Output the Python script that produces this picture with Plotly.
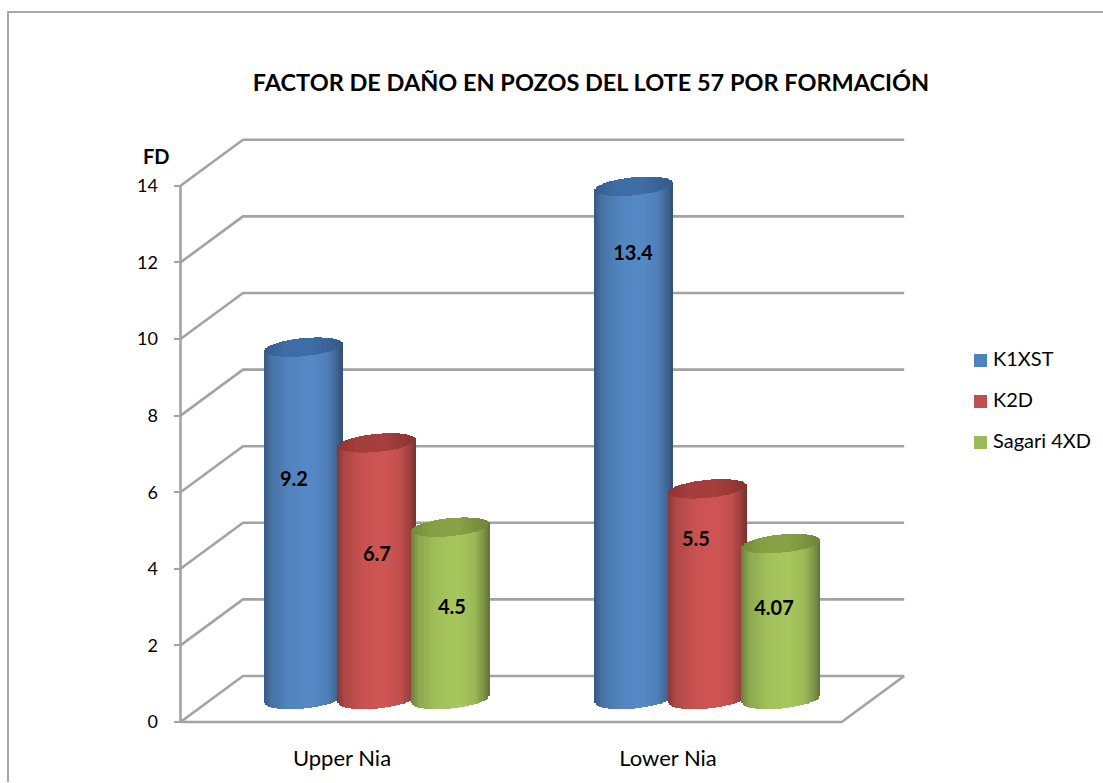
import numpy as np
import plotly.graph_objects as go

# Chart data
categories = ["Upper Nia", "Lower Nia"]
series_names = ["K1XST", "K2D", "Sagari 4XD"]
k1xst = [9.2, 13.4]
k2d = [6.7, 5.5]
sagari_4xd = [4.5, 4.07]
y_ticks = [0, 2, 4, 6, 8, 10, 12, 14]

W, H = 1103, 783
X0_PX, UNIT_X = 180.5, 330.6      # screen position of category 0, pixels per category
Y0_PX, UNIT_Y = 722.0, 38.3       # screen position of value 0, pixels per value unit
DEPTH_X, DEPTH_Y = 62.5, 46.0     # oblique depth of the 3D box, pixels


def dx(px):
    return (px - X0_PX) / UNIT_X


def dy(py):
    return (Y0_PX - py) / UNIT_Y


def project(cat, value, depth=0.0):
    """Oblique projection of a point in the 3D box to axis coordinates."""
    return cat + depth * DEPTH_X / UNIT_X, value + depth * DEPTH_Y / UNIT_Y


fig = go.Figure()
shapes = []


def wall_line(points, width=2.6):
    path = []
    for i, (c, v, d) in enumerate(points):
        x, y = project(c, v, d)
        path.append(f"{'M' if i == 0 else 'L'} {x:.5f} {y:.5f}")
    shapes.append(dict(type="path", path=" ".join(path), xref="x", yref="y", layer="below",
                       line=dict(color="#a3a3a3", width=width)))


# Back wall gridlines with their returns to the value axis
for v in y_ticks:
    wall_line([(0, v, 0), (0, v, 1), (2, v, 1)])
# Value axis, floor front edge and floor right edge
wall_line([(0, 0, 0), (0, y_ticks[-1], 0)])
wall_line([(0, 0, 0), (2, 0, 0), (2, 0, 1)])

# Cylinders are built from narrow shaded columns
SEMI_W = 38.5 / UNIT_X
CAP_B = 9.0 / UNIT_Y
CAP_TILT = 3.6 / UNIT_Y
GROUP_STEP = 73.5 / UNIT_X
BASE_SHIFT = (Y0_PX - 699.5) / UNIT_Y
u = np.linspace(-1, 1, 53)
strip_w = 1.1 * 2 * SEMI_W / (len(u) - 1)

palettes = [
    {"legend": "#4f81bd", "light": (86, 138, 199), "cap": (62, 108, 164)},
    {"legend": "#c0504d", "light": (208, 86, 84), "cap": (164, 62, 60)},
    {"legend": "#9bbb59", "light": (168, 200, 94), "cap": (134, 160, 68)},
]


def shaded(rgb, factors):
    return [f"rgb({int(rgb[0]*f)},{int(rgb[1]*f)},{int(rgb[2]*f)})" for f in factors]


body_shade = np.interp(u, [-1, -0.82, -0.35, 0.2, 0.65, 0.9, 1], [0.66, 0.84, 0.96, 1.0, 0.92, 0.72, 0.6])
cap_shade = np.interp(u, [-1, -0.5, 0.2, 1], [0.86, 1.0, 1.02, 0.84])
half_chord = np.sqrt(np.clip(1 - u ** 2, 0, 1))

for s, (name, values, pal) in enumerate(zip(series_names, [k1xst, k2d, sagari_4xd], palettes)):
    for c, value in enumerate(values):
        centre = c + 0.5 + 0.5 * DEPTH_X / UNIT_X + (s - 1) * GROUP_STEP
        xs = centre + u * SEMI_W
        bottom = BASE_SHIFT + CAP_TILT * u - CAP_B * half_chord
        top_c = value + BASE_SHIFT
        cap_low = top_c + CAP_TILT * u - CAP_B * half_chord
        cap_high = top_c + CAP_TILT * u + CAP_B * half_chord
        fig.add_bar(x=xs, y=cap_low + 0.03 - bottom, base=bottom, width=strip_w,
                    marker=dict(color=shaded(pal["light"], body_shade), line_width=0),
                    showlegend=False, hoverinfo="skip")
        fig.add_bar(x=xs, y=cap_high - cap_low, base=cap_low, width=strip_w,
                    marker=dict(color=shaded(pal["cap"], cap_shade), line_width=0),
                    showlegend=False, hoverinfo="skip")

# Value labels, placed by hand over each cylinder
label_px = [(294, 481), (633, 255), (377, 556), (696, 541), (452, 609), (774, 610)]
label_vals = k1xst + k2d + sagari_4xd
fig.add_scatter(x=[dx(p[0]) for p in label_px], y=[dy(p[1]) for p in label_px],
                mode="text", text=[f"<b>{v}</b>" for v in label_vals],
                textfont=dict(family="Lato", size=20, color="#000000"),
                textposition="middle center", showlegend=False, hoverinfo="skip")

# Key on the right
key_y = [360.5, 401.5, 442.5]
fig.add_scatter(x=[dx(980.5)] * 3, y=[dy(p) for p in key_y], mode="markers",
                marker=dict(symbol="square", size=13, color=[p["legend"] for p in palettes]),
                showlegend=False, hoverinfo="skip")
fig.add_scatter(x=[dx(993)] * 3, y=[dy(p) for p in key_y], mode="text",
                text=series_names, textposition="middle right",
                textfont=dict(family="Lato", size=20, color="#000000"),
                showlegend=False, hoverinfo="skip")

# Chart frame: top and left edges only
shapes.append(dict(type="path", xref="paper", yref="paper", layer="below",
                   path=f"M {1} {1 - 12 / H} L {8 / W} {1 - 12 / H} L {8 / W} {1 - 782 / H}",
                   line=dict(color="#8c8c8c", width=1.5)))

fig.update_layout(
    width=W, height=H, margin=dict(l=0, r=0, t=0, b=0),
    paper_bgcolor="#ffffff", plot_bgcolor="#ffffff", barmode="overlay", bargap=0,
    showlegend=False, shapes=shapes,
    title=dict(text="<b>FACTOR DE DAÑO EN POZOS DEL LOTE 57 POR FORMACIÓN</b>",
               x=591 / W, xanchor="center", y=1 - 83 / H, yanchor="middle",
               font=dict(family="Lato", size=23.5, color="#000000")),
    xaxis=dict(range=[dx(0), dx(W)], anchor="free", position=1 - Y0_PX / H,
               showgrid=False, zeroline=False, showline=False, ticks="",
               tickmode="array", tickvals=[dx(342), dx(668)], ticktext=categories,
               tickfont=dict(family="Lato", size=22, color="#000000"), ticklabelstandoff=21),
    yaxis=dict(range=[dy(H), dy(0)], anchor="free", position=X0_PX / W,
               showgrid=False, zeroline=False, showline=False,
               tickmode="array", tickvals=y_ticks, ticks="outside", ticklen=7,
               tickcolor="#a3a3a3", tickwidth=1.5, ticklabelstandoff=12,
               tickfont=dict(family="Lato", size=18, color="#000000")),
    annotations=[dict(text="<b>FD</b>", xref="paper", yref="paper", x=156 / W, y=1 - 156 / H,
                      showarrow=False, xanchor="center", yanchor="middle",
                      font=dict(family="Lato", size=20, color="#000000"))],
)

fig.write_html("out.html")
